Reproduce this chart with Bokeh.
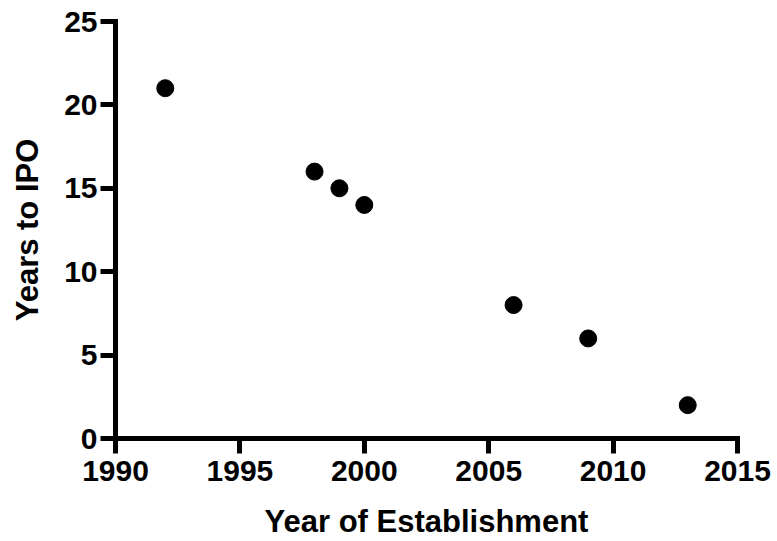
from bokeh.plotting import figure
from bokeh.models import Range1d, FixedTicker
from bokeh.embed import file_html
from bokeh.resources import INLINE

# Founding year vs. years taken to reach IPO
year_established = [1992, 1998, 1999, 2000, 2006, 2009, 2013]
years_to_ipo = [21, 16, 15, 14, 8, 6, 2]

x_ticks = [1990, 1995, 2000, 2005, 2010, 2015]
y_ticks = [0, 5, 10, 15, 20, 25]

FONT = "Liberation Sans"

p = figure(
    width=777, height=541,
    output_backend="svg", toolbar_location=None,
    x_range=Range1d(1990, 2015), y_range=Range1d(0, 25),
    min_border_left=115, min_border_right=40,
    min_border_top=21, min_border_bottom=103,
)
p.outline_line_color = None
p.grid.visible = False

p.scatter(year_established, years_to_ipo, size=17, color="black")

for ax in (p.xaxis[0], p.yaxis[0]):
    ax.axis_line_width = 5
    ax.axis_line_color = "black"
    ax.axis_line_cap = "square"
    ax.major_tick_line_width = 5
    ax.major_tick_line_color = "black"
    ax.major_tick_out = 15
    ax.major_tick_in = 0
    ax.minor_tick_line_color = None
    ax.major_label_text_font = FONT
    ax.major_label_text_font_style = "bold"
    ax.major_label_text_font_size = "30px"
    ax.major_label_text_color = "black"
    ax.axis_label_text_font = FONT
    ax.axis_label_text_font_style = "bold"
    ax.axis_label_text_font_size = "31px"
    ax.axis_label_text_color = "black"

p.xaxis.ticker = FixedTicker(ticks=x_ticks)
p.yaxis.ticker = FixedTicker(ticks=y_ticks)
p.xaxis.axis_label = "Year of Establishment"
p.yaxis.axis_label = "Years to IPO"
p.xaxis.major_label_standoff = 7
p.yaxis.major_label_standoff = 3
p.xaxis.axis_label_standoff = 20
p.yaxis.axis_label_standoff = 16

open("out.html", "w").write(file_html(p, INLINE))
